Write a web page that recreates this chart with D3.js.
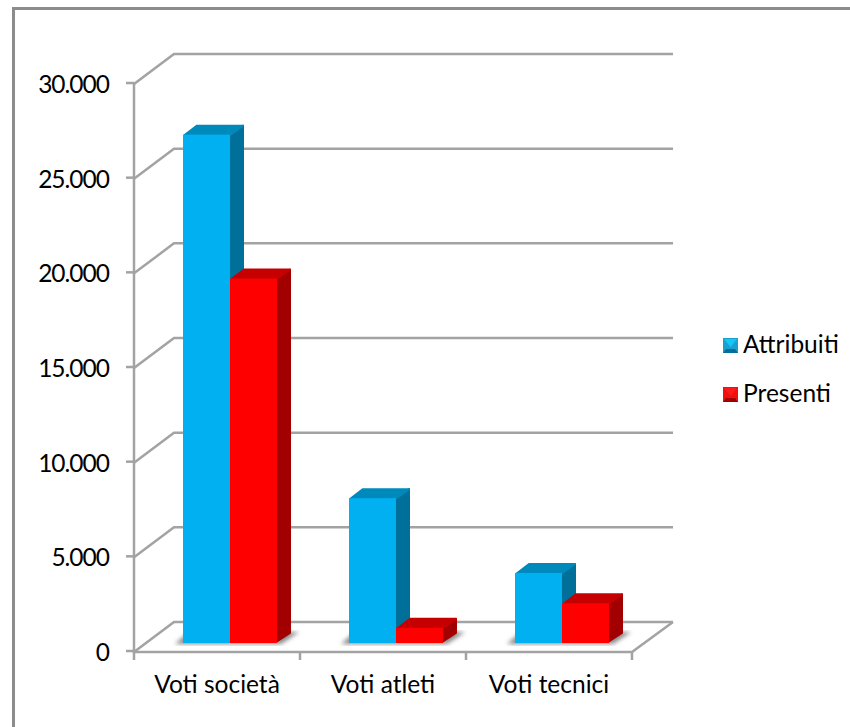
<!doctype html>
<html lang="it">
  <head>
    <meta charset="utf-8">
    <title>Voti</title>
    <style>
      body {
        margin: 0;
        background: #fff;
      }
      text {
        font-family: Lato, sans-serif;
        font-size: 24.5px;
        fill: #000;
      }
      .y-label {
        letter-spacing: -1px;
      }
    </style>
  </head>
  <body>
    <div id="chart"></div>
    <script src="https://d3js.org/d3.v7.min.js"></script>
    <script>
      const categories = ['Voti società', 'Voti atleti', 'Voti tecnici']
      const seriesNames = ['Attribuiti', 'Presenti']
      const attribuiti = [26850, 7650, 3700]
      const presenti = [19250, 800, 2100]
      const yTicks = [0, 5000, 10000, 15000, 20000, 25000, 30000]
      const tickLabels = ['0', '5.000', '10.000', '15.000', '20.000', '25.000', '30.000']

      const width = 850
      const height = 727
      const gridColor = '#a3a3a3'
      const wall = { dx: 40, dy: -30 }
      const barInset = { dx: 13, dy: -9 }
      const barDepth = { dx: 14, dy: -10 }

      const svg = d3.select('#chart').append('svg')
        .attr('width', width)
        .attr('height', height)
        .style('display', 'block')

      const yScale = d3.scaleLinear().domain([0, 30000]).range([652, 84])
      const xScale = d3.scaleBand().domain(categories).range([134, 632])
      const serScale = d3.scaleBand().domain(seriesNames)
        .range([0, xScale.bandwidth()])
        .paddingOuter(0.766)
        .paddingInner(0)

      // the frame is cut off on the right and at the bottom
      svg.append('path')
        .attr('d', d3.line()([[13.5, height], [13.5, 8.5], [width, 8.5]]))
        .attr('fill', 'none')
        .attr('stroke', '#8c8c8c')
        .attr('stroke-width', 3)

      const defs = svg.append('defs')
      defs.append('filter').attr('id', 'blur')
        .append('feGaussianBlur').attr('stdDeviation', 2)

      // back wall gridlines and the slanted bit on the side wall
      const grid = svg.append('g')
        .attr('fill', 'none')
        .attr('stroke', gridColor)
        .attr('stroke-width', 2.5)
      yTicks.forEach(t => {
        const y = yScale(t)
        grid.append('path').attr('d', d3.line()([
          [xScale.range()[0], y],
          [xScale.range()[0] + wall.dx, y + wall.dy],
          [xScale.range()[1] + wall.dx + 1, y + wall.dy]
        ]))
      })

      // floor
      const x0 = xScale.range()[0]
      const x1 = xScale.range()[1]
      const y0 = yScale(0)
      grid.append('path').attr('d', d3.line()([
        [x1 + wall.dx + 1, y0 + wall.dy],
        [x1, y0],
        [x0, y0],
        [x0, yScale(30000)]
      ]))

      // axis ticks
      const ticks = svg.append('g').attr('stroke', gridColor).attr('stroke-width', 2.5)
      yTicks.forEach(t => {
        ticks.append('line')
          .attr('x1', x0 - 8).attr('x2', x0)
          .attr('y1', yScale(t) - 1).attr('y2', yScale(t) - 1)
      })
      const catEdges = [x0].concat(categories.map(c => xScale(c) + xScale.bandwidth()))
      catEdges.forEach(x => {
        ticks.append('line')
          .attr('x1', x).attr('x2', x)
          .attr('y1', y0).attr('y2', y0 + 8)
      })

      svg.append('g').selectAll('text').data(yTicks).enter().append('text')
        .attr('class', 'y-label')
        .attr('x', 109)
        .attr('y', d => yScale(d) + 9)
        .attr('text-anchor', 'end')
        .text((d, i) => tickLabels[i])

      svg.append('g').selectAll('text').data(categories).enter().append('text')
        .attr('x', d => xScale(d) + xScale.bandwidth() / 2)
        .attr('y', 693)
        .attr('text-anchor', 'middle')
        .text(d => d)

      // bars
      const colors = {
        Attribuiti: { front: '#00b0f0', top: '#0089bb', side: '#00709a', marker: '#1c9fd0', shine: '#12c8f5' },
        Presenti: { front: '#ff0000', top: '#c60000', side: '#a20000', marker: '#f01010', shine: '#ff1a1a' }
      }
      const values = { Attribuiti: attribuiti, Presenti: presenti }
      const baseY = y0 + barInset.dy

      // soft shadows on the floor
      categories.forEach(c => {
        const left = xScale(c) + serScale(seriesNames[0]) + barInset.dx
        const right = xScale(c) + serScale(seriesNames[1]) + serScale.bandwidth() + barInset.dx
        svg.append('path')
          .attr('d', d3.line()([
            [left - 8, baseY + 1],
            [left + 6, baseY - 11],
            [right + 22, baseY - 11],
            [right + 4, baseY + 1]
          ]))
          .attr('fill', '#8a8a8a')
          .attr('filter', 'url(#blur)')
      })

      categories.forEach((c, i) => {
        seriesNames.forEach(s => {
          const col = colors[s]
          const bx = xScale(c) + serScale(s) + barInset.dx
          const bw = serScale.bandwidth()
          const h = yScale(0) - yScale(values[s][i])
          const top = baseY - h
          const g = svg.append('g').attr('stroke-linejoin', 'round').attr('stroke-width', 2)
          g.append('path')
            .attr('d', d3.line()([
              [bx + bw - 1, top + 1], [bx + bw + barDepth.dx - 1, top + barDepth.dy + 1],
              [bx + bw + barDepth.dx - 1, baseY + barDepth.dy], [bx + bw - 1, baseY - 1]
            ]))
            .attr('fill', col.side)
            .attr('stroke', col.side)
          g.append('path')
            .attr('d', d3.line()([
              [bx + 1, top + 1], [bx + barDepth.dx, top + barDepth.dy + 1],
              [bx + bw + barDepth.dx - 1, top + barDepth.dy + 1], [bx + bw - 1, top + 1]
            ]))
            .attr('fill', col.top)
            .attr('stroke', col.top)
          g.append('rect')
            .attr('x', bx).attr('y', top)
            .attr('width', bw).attr('height', h)
            .attr('fill', col.front)
            .attr('stroke', 'none')
        })
      })

      // legend
      const legendY = d3.scalePoint().domain(seriesNames).range([345, 394])
      seriesNames.forEach(s => {
        const y = legendY(s)
        const col = colors[s]
        const g = svg.append('g')
        g.append('rect').attr('x', 723).attr('y', y - 7).attr('width', 15).attr('height', 15).attr('fill', col.marker)
        g.append('path')
          .attr('d', d3.line()([[724, y - 6], [737, y - 6], [730.5, y + 2]]))
          .attr('fill', col.shine)
        g.append('path')
          .attr('d', d3.line()([[723, y + 8], [726, y + 4], [735, y + 4], [738, y + 8]]))
          .attr('fill', col.side)
        g.append('text').attr('x', 743).attr('y', y + 8).text(s)
      })
    </script>
  </body>
</html>
